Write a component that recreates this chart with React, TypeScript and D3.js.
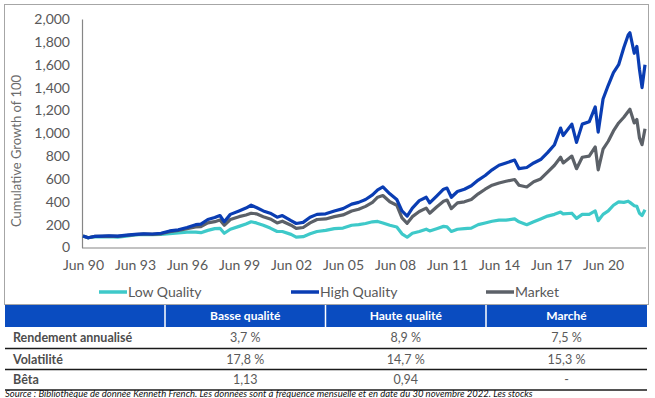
import React, { useEffect, useRef } from 'react';
import * as d3 from 'd3';

// decimal years
const dates: number[] = [
  1990.5, 1990.8, 1991.2, 1991.6, 1992.0, 1992.5, 1993.0, 1993.5, 1994.0, 1994.5,
  1995.0, 1995.5, 1996.0, 1996.5, 1997.0, 1997.3, 1997.7, 1998.1, 1998.4, 1998.65,
  1999.0, 1999.5, 1999.9, 2000.2, 2000.5, 2000.9, 2001.3, 2001.7, 2002.0, 2002.5,
  2002.8, 2003.2, 2003.6, 2004.0, 2004.5, 2005.0, 2005.5, 2006.0, 2006.4, 2006.8,
  2007.2, 2007.5, 2007.8, 2008.2, 2008.6, 2008.9, 2009.2, 2009.5, 2009.9, 2010.3,
  2010.5, 2010.9, 2011.3, 2011.5, 2011.75, 2012.1, 2012.5, 2012.9, 2013.3, 2013.7,
  2014.1, 2014.5, 2014.9, 2015.4, 2015.65, 2016.1, 2016.5, 2016.9, 2017.3, 2017.7,
  2018.05, 2018.2, 2018.7, 2018.97, 2019.3, 2019.7, 2020.05, 2020.22, 2020.5, 2020.8,
  2021.1, 2021.4, 2021.7, 2021.95, 2022.05, 2022.3, 2022.45, 2022.6, 2022.75, 2022.92
];

const lowQuality: number[] = [
  100, 85, 95, 93, 95, 90, 100, 110, 115, 112,
  115, 122, 128, 135, 135, 130, 150, 165, 168, 125,
  160, 185, 205, 225, 215, 195, 170, 140, 140, 115,
  90, 95, 120, 140, 150, 165, 170, 195, 200, 210,
  225, 228, 215, 195, 180, 120, 90, 125, 140, 160,
  145, 165, 185, 180, 140, 160, 165, 170, 200, 215,
  230, 240, 240, 250, 225, 200, 225, 250, 275, 290,
  310, 295, 300, 255, 290, 290, 320, 235, 290, 320,
  370, 400, 395, 405, 395, 365, 360, 300, 280, 330
];

const highQuality: number[] = [
  100, 85, 98, 100, 103, 100, 108, 115, 120, 118,
  125, 145, 155, 175, 200, 205, 245, 262, 280, 225,
  290, 320, 345, 370, 350, 320, 300, 265, 280, 235,
  210, 220, 265, 290, 295, 320, 340, 380, 395, 420,
  460, 505, 530, 470, 420, 320, 275, 345, 410, 440,
  390, 450, 510, 520, 440, 490, 510, 540, 590, 630,
  680, 720, 740, 765, 690, 700, 740, 770, 830, 900,
  1045, 980, 1080, 920, 1080, 1100, 1230, 1010, 1300, 1420,
  1530, 1600, 1750, 1860, 1880, 1700, 1760, 1560, 1400, 1600
];

const market: number[] = [
  100, 85, 97, 98, 100, 98, 105, 112, 118, 115,
  120, 138, 150, 165, 180, 182, 215, 226, 240, 195,
  245, 270, 285, 300, 295, 270, 250, 215, 230, 195,
  168, 175, 215, 245, 250, 270, 285, 320, 335, 360,
  395, 440, 455, 400, 370, 260, 212, 270, 315, 345,
  300, 355, 405, 415, 340, 390, 400, 420, 470, 510,
  545, 565, 580, 595, 545, 530, 575, 600, 660, 720,
  790, 740, 800, 690, 790, 800, 880, 680, 860, 930,
  1020, 1090, 1140, 1190, 1210, 1090, 1120, 960, 900, 1040
];

const yTicks: number[] = [0, 200, 400, 600, 800, 1000, 1200, 1400, 1600, 1800, 2000];
const xTicks: number[] = [1990.5, 1993.5, 1996.5, 1999.5, 2002.5, 2005.5, 2008.5, 2011.5, 2014.5, 2017.5, 2020.5];
const xTickLabels: string[] = ['Jun 90', 'Jun 93', 'Jun 96', 'Jun 99', 'Jun 02', 'Jun 05', 'Jun 08', 'Jun 11', 'Jun 14', 'Jun 17', 'Jun 20'];

const seriesNames: string[] = ['Low Quality', 'High Quality', 'Market'];
const seriesColors: string[] = ['#3ec9c9', '#0a3db3', '#5c6168'];

const tableHeaders: string[] = ['', 'Basse qualité', 'Haute qualité', 'Marché'];
const rowLabels: string[] = ['Rendement annualisé', 'Volatilité', 'Bêta'];
const lowStats: string[] = ['3,7 %', '17,8 %', '1,13'];
const highStats: string[] = ['8,9 %', '14,7 %', '0,94'];
const marketStats: string[] = ['7,5 %', '15,3 %', '-'];

const sourceNote = 'Source : Bibliothèque de donnée Kenneth French. Les données sont à fréquence mensuelle et en date du 30 novembre 2022. Les stocks';

const FONT = 'Lato, "Open Sans", sans-serif';

const App: React.FC = () => {
  const svgRef = useRef<SVGSVGElement>(null);

  useEffect(() => {
    if (!svgRef.current) return;
    const svg = d3.select(svgRef.current);
    svg.selectAll('*').remove();

    const width = 655;
    const height = 398;
    svg.attr('width', width).attr('height', height);

    // chart frame
    svg.append('rect')
      .attr('x', 4.5).attr('y', 4.5)
      .attr('width', 644).attr('height', 300)
      .attr('fill', 'white')
      .attr('stroke', '#a6a6a6')
      .attr('stroke-width', 1);

    const xScale = d3.scaleLinear().domain([1990.5, 2022.92]).range([83, 645]);
    const yScale = d3.scaleLinear().domain([0, 2000]).range([247.5, 19]);

    // y axis
    const yAxis = d3.axisLeft(yScale).tickValues(yTicks).tickSize(0).tickPadding(12)
      .tickFormat(d => d3.format(',')(d as number));
    const gy = svg.append('g').attr('transform', 'translate(82,0)').call(yAxis);
    gy.select('.domain').attr('stroke', '#868686').attr('stroke-width', 1.2);
    gy.selectAll('text')
      .attr('font-family', FONT).attr('font-size', 14).attr('fill', '#595959');

    // x axis
    const xAxis = d3.axisBottom(xScale).tickValues(xTicks).tickSize(0).tickPadding(12)
      .tickFormat((_, i) => xTickLabels[i]);
    const gx = svg.append('g').attr('transform', 'translate(0,248)').call(xAxis);
    gx.select('.domain').attr('stroke', '#868686').attr('stroke-width', 1.2)
      .attr('d', `M82,0H646`);
    gx.selectAll('text')
      .attr('font-family', FONT).attr('font-size', 14).attr('fill', '#595959');

    svg.append('text')
      .attr('transform', 'translate(21,151) rotate(-90)')
      .attr('text-anchor', 'middle')
      .attr('font-family', FONT).attr('font-size', 13)
      .attr('fill', '#6d6d6d')
      .text('Cumulative Growth of 100');

    // lines
    const line = d3.line<number>()
      .x((_, i) => xScale(dates[i]))
      .y(d => yScale(d));

    [lowQuality, market, highQuality].forEach((s, k) => {
      const color = [seriesColors[0], seriesColors[2], seriesColors[1]][k];
      svg.append('path')
        .datum(s)
        .attr('fill', 'none')
        .attr('stroke', color)
        .attr('stroke-width', 3.2)
        .attr('stroke-linejoin', 'round')
        .attr('d', line);
    });

    // legend
    const legendX = [99, 291, 486];
    seriesNames.forEach((name, i) => {
      const g = svg.append('g').attr('transform', `translate(${legendX[i]},292)`);
      g.append('line').attr('x1', 0).attr('x2', 28).attr('y1', 0).attr('y2', 0)
        .attr('stroke', seriesColors[i]).attr('stroke-width', 3.5);
      g.append('text').attr('x', 29).attr('y', 5)
        .attr('font-family', FONT).attr('font-size', 14).attr('fill', '#595959')
        .text(name);
    });

    // table
    const colX = [5, 165, 325.5, 486, 647];
    const headerTop = 305;
    const headerBottom = 327;
    const rowBottoms = [348.5, 369.5, 390];

    svg.append('rect')
      .attr('x', colX[0]).attr('y', headerTop)
      .attr('width', colX[4] - colX[0]).attr('height', headerBottom - headerTop)
      .attr('fill', '#0a4cc0');

    colX.slice(1, 4).forEach(x => {
      svg.append('line').attr('x1', x).attr('x2', x)
        .attr('y1', headerTop).attr('y2', headerBottom)
        .attr('stroke', 'white').attr('stroke-width', 1.5);
    });

    tableHeaders.forEach((h, i) => {
      if (!h) return;
      svg.append('text')
        .attr('x', (colX[i] + colX[i + 1]) / 2).attr('y', 320)
        .attr('text-anchor', 'middle')
        .attr('font-family', FONT).attr('font-size', 12).attr('font-weight', 'bold')
        .attr('fill', 'white')
        .text(h);
    });

    const columns = [lowStats, highStats, marketStats];
    rowLabels.forEach((label, r) => {
      const top = r === 0 ? headerBottom : rowBottoms[r - 1];
      const bottom = rowBottoms[r];
      const ty = (top + bottom) / 2 + 4.5;
      svg.append('text')
        .attr('x', 13).attr('y', ty)
        .attr('font-family', FONT).attr('font-size', 12.5).attr('font-weight', 'bold')
        .attr('fill', '#4d4d4d')
        .text(label);
      columns.forEach((col, c) => {
        svg.append('text')
          .attr('x', (colX[c + 1] + colX[c + 2]) / 2).attr('y', ty)
          .attr('text-anchor', 'middle')
          .attr('font-family', FONT).attr('font-size', 12.5)
          .attr('fill', '#595959')
          .text(col[r]);
      });
      svg.append('line')
        .attr('x1', colX[0]).attr('x2', colX[4])
        .attr('y1', bottom).attr('y2', bottom)
        .attr('stroke', '#1a1a1a').attr('stroke-width', 1.5);
    });

    svg.append('text')
      .attr('x', 5).attr('y', 396.5)
      .attr('font-family', FONT).attr('font-size', 9.5).attr('font-style', 'italic')
      .attr('fill', '#111')
      .text(sourceNote);
  }, []);

  return (
    <div style={{ position: 'absolute', left: 0, top: 0, width: 655, height: 398, overflow: 'hidden', background: 'white' }}>
      <svg ref={svgRef} style={{ display: 'block' }}></svg>
    </div>
  );
};

export default App;
